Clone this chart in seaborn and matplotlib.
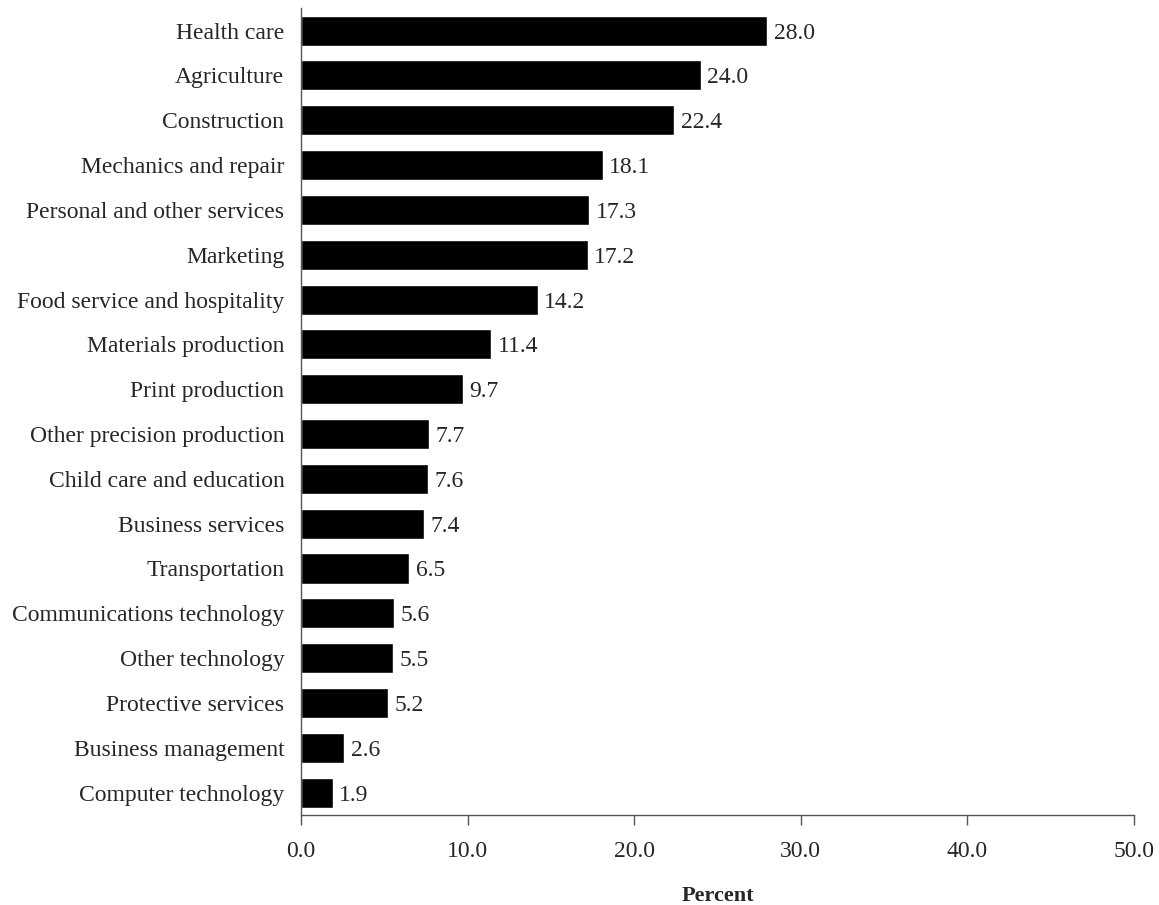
import matplotlib
matplotlib.use("Agg")
import matplotlib.pyplot as plt
import seaborn as sns
import pandas as pd

# Data
categories = [
    "Health care", "Agriculture", "Construction", "Mechanics and repair",
    "Personal and other services", "Marketing", "Food service and hospitality",
    "Materials production", "Print production", "Other precision production",
    "Child care and education", "Business services", "Transportation",
    "Communications technology", "Other technology", "Protective services",
    "Business management", "Computer technology",
]
percents = [28.0, 24.0, 22.4, 18.1, 17.3, 17.2, 14.2, 11.4, 9.7, 7.7,
            7.6, 7.4, 6.5, 5.6, 5.5, 5.2, 2.6, 1.9]
x_ticks = [0, 10, 20, 30, 40, 50]

df = pd.DataFrame({"category": categories, "percent": percents})

sns.set_style("white")
plt.rcParams["font.family"] = ["Liberation Serif", "DejaVu Serif"]

fig = plt.figure(figsize=(11.59, 9.05), dpi=100)
ax = fig.add_axes([0.2597, 0.0994, 0.7187, 0.8916])

sns.barplot(data=df, x="percent", y="category", color="black",
            width=0.67, saturation=1, ax=ax, orient="h")

for i, v in enumerate(percents):
    ax.text(v + 0.4, i, f"{v:.1f}", va="center_baseline", ha="left", fontsize=17)

ax.set_xlim(0, 50)
ax.set_xticks(x_ticks)
ax.set_xticklabels([f"{t:.1f}" for t in x_ticks], fontsize=17)
ax.tick_params(axis="x", direction="out", length=7, width=1, color="#555555",
               bottom=True, pad=12)
ax.tick_params(axis="y", length=0, labelsize=17, pad=12)
ax.set_ylabel("")
ax.set_xlabel("Percent", fontsize=16, fontweight="bold", labelpad=17)

sns.despine(ax=ax)
for s in ["left", "bottom"]:
    ax.spines[s].set_color("#555555")
    ax.spines[s].set_linewidth(1)

fig.savefig("out.png", dpi=100)
